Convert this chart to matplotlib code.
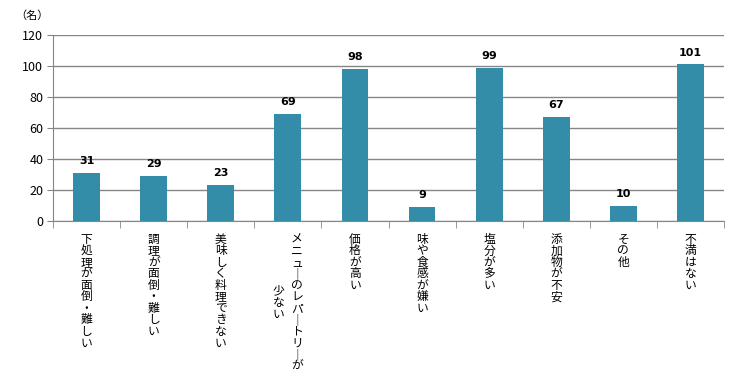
import matplotlib
matplotlib.use("Agg")
import matplotlib.pyplot as plt
import numpy as np

plt.rcParams['font.family'] = ['Noto Sans CJK JP', 'DejaVu Sans']

# categories, each split into its vertical columns (right to left)
categories = [
    ["下処理が面倒・難しい"],
    ["調理が面倒・難しい"],
    ["美味しく料理できない"],
    ["メニューのレパートリーが", "少ない"],
    ["価格が高い"],
    ["味や食感が嫌い"],
    ["塩分が多い"],
    ["添加物が不安"],
    ["その他"],
    ["不満はない"],
]
counts = [31, 29, 23, 69, 98, 9, 99, 67, 10, 101]
yticks = [0, 20, 40, 60, 80, 100, 120]

bar_color = "#348DA8"
grid_color = "#868686"

fig = plt.figure(figsize=(7.56, 3.78), dpi=100)
ax = fig.add_axes([0.0701, 0.4153, 0.8876, 0.4921])

x = np.arange(len(counts))
bars = ax.bar(x, counts, width=0.4, color=bar_color, zorder=3)

ax.set_xlim(-0.5, len(counts) - 0.5)
ax.set_ylim(0, 120)
ax.set_yticks(yticks)
ax.tick_params(axis='y', labelsize=9, length=4, color=grid_color, pad=3)
ax.yaxis.grid(True, color=grid_color, linewidth=1)
ax.set_axisbelow(True)

# tick marks at the category boundaries
ax.set_xticks([])
ax.set_xticks(np.arange(-0.5, len(counts)), minor=True)
ax.tick_params(axis='x', which='minor', length=5, color=grid_color, labelbottom=False)

for side in ['top', 'right']:
    ax.spines[side].set_visible(False)
for side in ['left', 'bottom']:
    ax.spines[side].set_color(grid_color)

# value labels
for xi, v in zip(x, counts):
    ax.annotate(str(v), (xi, v), xytext=(0, 5), textcoords='offset points',
                ha='center', va='bottom', fontsize=8, fontweight='bold',
                family=['DejaVu Sans'])

# vertical Japanese labels, one character at a time
step = 8.28  # points per character
for xi, cols in zip(x, categories):
    n = len(cols)
    offsets = [(n - 1) / 2 - i for i in range(n)]
    longest = max(len(c) for c in cols)
    for col, off in zip(cols, offsets):
        pad = (longest - len(col)) / 2
        for j, ch in enumerate(col):
            if ch == "ー":
                ch = "｜"
            ax.annotate(ch, (xi, 0), xycoords=('data', 'axes fraction'),
                        xytext=(off * 13, -8.6 - (pad + j) * step),
                        textcoords='offset points',
                        ha='center', va='top', fontsize=8.5)

fig.text(15 / 756, 1 - 16 / 378, "（名）", fontsize=8, va='center', ha='left')

fig.savefig("out.png", dpi=100)
